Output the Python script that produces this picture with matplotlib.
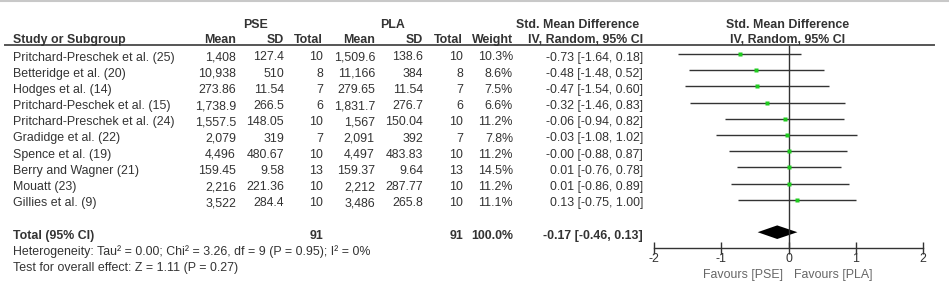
# Forest plot: PSE vs PLA, std. mean difference (random effects)
import numpy as np
import matplotlib.pyplot as plt

plt.rcParams['font.family'] = ['Liberation Sans', 'DejaVu Sans']

# data
studies = ['Pritchard-Preschek et al. (25)', 'Betteridge et al. (20)', 'Hodges et al. (14)',
           'Pritchard-Peschek et al. (15)', 'Pritchard-Preschek et al. (24)', 'Gradidge et al. (22)',
           'Spence et al. (19)', 'Berry and Wagner (21)', 'Mouatt (23)', 'Gillies et al. (9)']
pse_mean = ['1,408', '10,938', '273.86', '1,738.9', '1,557.5', '2,079', '4,496', '159.45', '2,216', '3,522']
pse_sd = ['127.4', '510', '11.54', '266.5', '148.05', '319', '480.67', '9.58', '221.36', '284.4']
pse_n = [10, 8, 7, 6, 10, 7, 10, 13, 10, 10]
pla_mean = ['1,509.6', '11,166', '279.65', '1,831.7', '1,567', '2,091', '4,497', '159.37', '2,212', '3,486']
pla_sd = ['138.6', '384', '11.54', '276.7', '150.04', '392', '483.83', '9.64', '287.77', '265.8']
pla_n = [10, 8, 7, 6, 10, 7, 10, 13, 10, 10]
weight = [10.3, 8.6, 7.5, 6.6, 11.2, 7.8, 11.2, 14.5, 11.2, 11.1]
smd = [-0.73, -0.48, -0.47, -0.32, -0.06, -0.03, -0.0, 0.01, 0.01, 0.13]
ci_lo = [-1.64, -1.48, -1.54, -1.46, -0.94, -1.08, -0.88, -0.76, -0.86, -0.75]
ci_hi = [0.18, 0.52, 0.60, 0.83, 0.82, 1.02, 0.87, 0.78, 0.89, 1.00]
total_smd, total_lo, total_hi = -0.17, -0.46, 0.13
ticks = [-2, -1, 0, 1, 2]
hetero = 'Heterogeneity: Tau\u00b2 = 0.00; Chi\u00b2 = 3.26, df = 9 (P = 0.95); I\u00b2 = 0%'
overall = 'Test for overall effect: Z = 1.11 (P = 0.27)'

W, H = 949, 284
y0, dy = 54, 16.2   # pixel y of first row, row step
txt = '#333333'
fs = 8.9

fig = plt.figure(figsize=(W / 100, H / 100), dpi=100)
bg = fig.add_axes([0, 0, 1, 1])
bg.set_xlim(0, W)
bg.set_ylim(H, 0)
bg.axis('off')

def ypx(i):
    return y0 + dy * i + 2

# border + header rule
bg.plot([0, W], [0.8, 0.8], color='#c8c8c8', lw=1.5)
bg.plot([5, 934], [45, 45], color='#555555', lw=1.4)

# column right edges (pixels)
cols = {'pm': 236, 'ps': 284, 'pn': 323, 'lm': 375, 'ls': 423, 'ln': 463, 'w': 513, 'ci': 643}
bold = dict(fontweight='bold', fontsize=fs, color=txt, va='center_baseline')
norm = dict(fontsize=fs, color=txt, va='center_baseline')

bg.text(256, 23, 'PSE', ha='center', **bold)
bg.text(393, 23, 'PLA', ha='center', **bold)
bg.text(578, 23, 'Std. Mean Difference', ha='center', **bold)
bg.text(788, 23, 'Std. Mean Difference', ha='center', **bold)
hy = 38.5
bg.text(13, hy, 'Study or Subgroup', ha='left', **bold)
for key, lab in [('pm', 'Mean'), ('ps', 'SD'), ('pn', 'Total'), ('lm', 'Mean'), ('ls', 'SD'),
                 ('ln', 'Total'), ('w', 'Weight'), ('ci', 'IV, Random, 95% CI')]:
    bg.text(cols[key], hy, lab, ha='right', **bold)
bg.text(788, hy, 'IV, Random, 95% CI', ha='center', **bold)

for i, s in enumerate(studies):
    y = ypx(i)
    bg.text(13, y, s, ha='left', **norm)
    bg.text(cols['pm'], y, pse_mean[i], ha='right', **norm)
    bg.text(cols['ps'], y, pse_sd[i], ha='right', **norm)
    bg.text(cols['pn'], y, str(pse_n[i]), ha='right', **norm)
    bg.text(cols['lm'], y, pla_mean[i], ha='right', **norm)
    bg.text(cols['ls'], y, pla_sd[i], ha='right', **norm)
    bg.text(cols['ln'], y, str(pla_n[i]), ha='right', **norm)
    bg.text(cols['w'], y, f'{weight[i]:.1f}%', ha='right', **norm)
    bg.text(cols['ci'], y, f'{smd[i]:.2f} [{ci_lo[i]:.2f}, {ci_hi[i]:.2f}]', ha='right', **norm)

yt = ypx(11)
bg.text(13, yt, 'Total (95% CI)', ha='left', **bold)
bg.text(cols['pn'], yt, str(sum(pse_n)), ha='right', **bold)
bg.text(cols['ln'], yt, str(sum(pla_n)), ha='right', **bold)
bg.text(cols['w'], yt, f'{sum(weight):.1f}%', ha='right', **bold)
bg.text(cols['ci'], yt, f'{total_smd:.2f} [{total_lo:.2f}, {total_hi:.2f}]', ha='right', **bold)
bg.text(13, ypx(12), hetero, ha='left', **norm)
bg.text(13, ypx(13), overall, ha='left', **norm)

# forest panel: x -2..2 spans pixels 654..923, rows share the table's spacing
xl, xr = 654, 923.3
ax = fig.add_axes([xl / W, 0, (xr - xl) / W, 1])
ax.set_xlim(-2, 2)
ax.set_ylim((H - y0) / dy, -y0 / dy)
ax.patch.set_visible(False)
for sp in ['top', 'left', 'right']:
    ax.spines[sp].set_visible(False)
rows = np.arange(len(studies))
ax.hlines(rows, ci_lo, ci_hi, color='#333333', lw=1.0)
ax.vlines(0, (45 - y0) / dy, 12, color='#333333', lw=1.0)
for r, m, w in zip(rows, smd, weight):
    ax.plot(m, r, 's', color='#1fcc1f', ms=0.85 * np.sqrt(w), mec='none')
ax.fill([total_lo, total_smd, total_hi, total_smd], [11, 11 - 0.42, 11, 11 + 0.42],
        color='black', lw=0)
ax.spines['bottom'].set_position(('data', 12))
ax.spines['bottom'].set_bounds(-2, 2)
ax.spines['bottom'].set_color('#333333')
ax.spines['bottom'].set_linewidth(1.0)
ax.set_xticks(ticks)
ax.set_xticklabels([str(t) for t in ticks])
ax.tick_params(axis='x', direction='inout', length=9, width=1.0, color='#333333',
               labelsize=fs, labelcolor=txt, pad=-1)
ax.set_yticks([])
ax.text(-0.08, 13.65, 'Favours [PSE]', ha='right', va='center', fontsize=fs, color='#666666')
ax.text(0.08, 13.65, 'Favours [PLA]', ha='left', va='center', fontsize=fs, color='#666666')

fig.savefig('out.png', dpi=100)
